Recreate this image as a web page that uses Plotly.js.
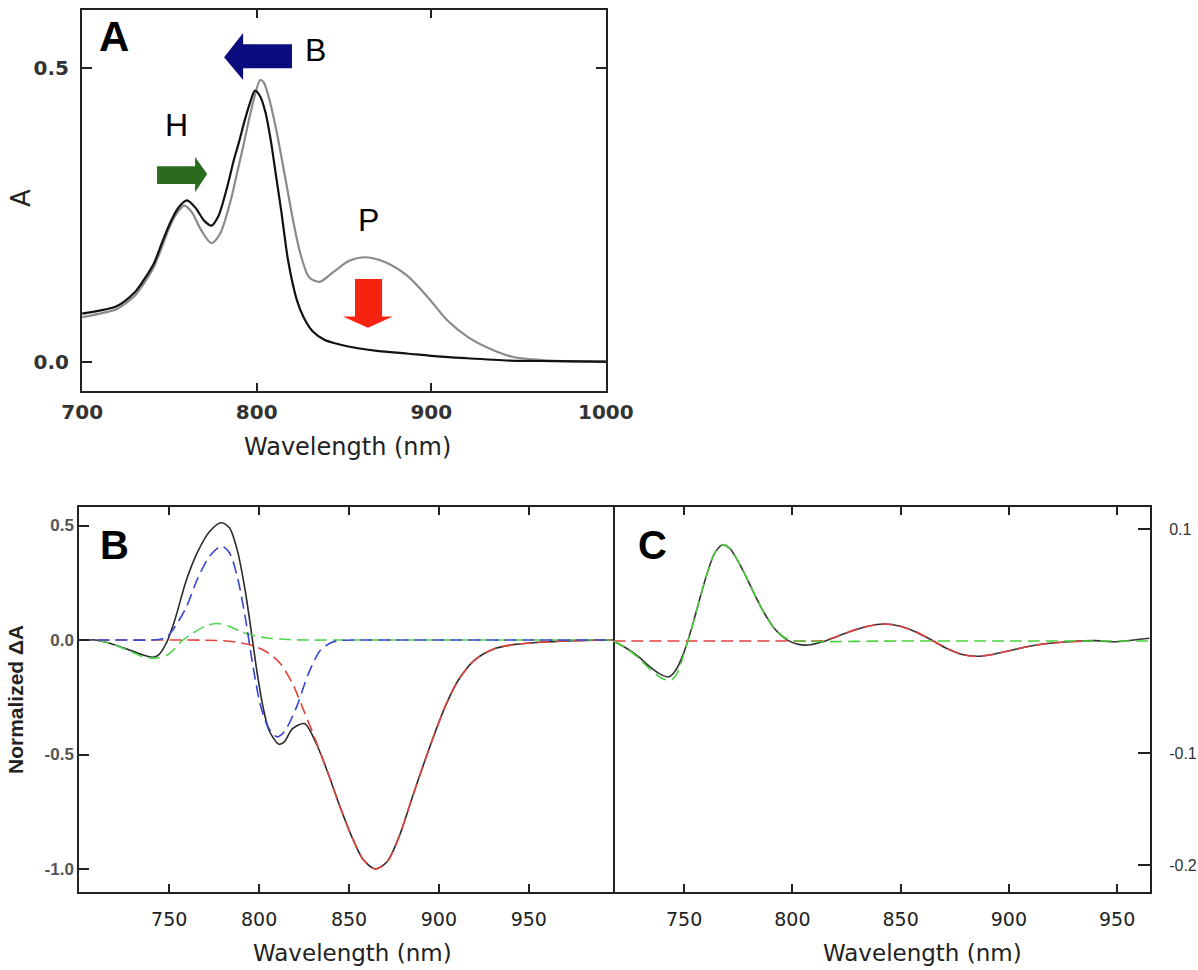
<!DOCTYPE html>
<html><head><meta charset="utf-8">
<script src="https://cdn.plot.ly/plotly-3.0.1.min.js"></script>
<style>html,body{margin:0;padding:0;background:#fff}#chart{width:1198px;height:970px}</style>
</head><body><div id="chart"></div>
<script>
// ---------- Panel A: absorption spectra ----------
const A_WL_BLACK = [700,710,720,730,735,741,746,750,755,760,765,770,774,778,783,787,790,793,796,799,802,805,808,811,814,818,823,827,832,839,848,858,870,886,900,920,945,970,1000];
const A_ABS_BLACK = [0.082,0.087,0.095,0.118,0.138,0.167,0.205,0.234,0.262,0.275,0.262,0.240,0.232,0.248,0.297,0.345,0.376,0.410,0.440,0.462,0.452,0.425,0.378,0.318,0.258,0.172,0.105,0.075,0.052,0.037,0.029,0.023,0.018,0.014,0.010,0.006,0.002,0.001,0.000];
const A_WL_GRAY = [700,710,720,730,735,741,746,750,754,758.5,763,768,774,779,785,789,792.5,795,798,802,804,806.5,811,816,820.5,825,830,836,844,853,862.6,874,886,898,909,921,933,947,968,1000];
const A_ABS_GRAY = [0.076,0.082,0.090,0.112,0.132,0.161,0.198,0.229,0.252,0.266,0.254,0.225,0.202,0.218,0.274,0.325,0.370,0.405,0.443,0.480,0.476,0.455,0.398,0.319,0.246,0.184,0.144,0.136,0.153,0.172,0.178,0.169,0.147,0.110,0.071,0.042,0.023,0.008,0.002,0.000];

// ---------- Panel B: normalized difference spectrum and band components ----------
const B_WL_TOTAL = [700,709,718,726.5,735,741,744,748.5,753,759.4,766,772.6,779,783.5,788,792.3,795.6,799,802.2,805.5,811,814,818.6,825.2,831.8,838.4,845,851.5,858,864.7,871.3,877.9,884.4,891,897.6,904.2,910.7,919.5,930.5,941.4,952.4,963.4,974.3,997];
const B_TOTAL = [0,0,-0.017,-0.039,-0.064,-0.075,-0.066,-0.012,0.084,0.258,0.388,0.475,0.512,0.49,0.388,0.214,0.04,-0.148,-0.293,-0.394,-0.455,-0.445,-0.387,-0.365,-0.452,-0.583,-0.728,-0.858,-0.96,-1.0,-0.967,-0.858,-0.706,-0.554,-0.409,-0.278,-0.177,-0.09,-0.039,-0.02,-0.012,-0.007,-0.003,0];
const B_WL_BBAND = [700,720,740,744,748.5,753,759.4,766,772.6,779,783.5,788,792.3,796.7,801,805.5,810,814,820.8,827.4,834,840.6,847,860,900,950,997];
const B_BBAND = [0,0,0,0.002,0.012,0.055,0.142,0.272,0.367,0.41,0.381,0.272,0.099,-0.119,-0.293,-0.387,-0.423,-0.401,-0.293,-0.148,-0.046,-0.01,-0.001,0,0,0,0];
const B_WL_HBAND = [700,712,718,726.5,735.3,742,748.5,753,757.2,763.8,770.4,777,783.5,790,796.7,805.5,814,825,850,900,997];
const B_HBAND = [0,-0.004,-0.017,-0.043,-0.072,-0.079,-0.068,-0.039,-0.003,0.033,0.062,0.072,0.059,0.036,0.019,0.008,0.003,0,0,0,0];
const B_WL_PBAND = [700,760,770,779,788,796.7,805.5,812,818.6,825.2,831.8,838.4,845,851.5,858,864.7,871.3,877.9,884.4,891,897.6,904.2,910.7,919.5,930.5,941.4,952.4,963.4,974.3,997];
const B_PBAND = [0,0,-0.001,-0.003,-0.01,-0.025,-0.058,-0.105,-0.19,-0.315,-0.445,-0.583,-0.728,-0.858,-0.96,-1.0,-0.967,-0.858,-0.706,-0.554,-0.409,-0.278,-0.177,-0.09,-0.039,-0.02,-0.012,-0.007,-0.003,0];

// ---------- Panel C: residual and its components ----------
const C_WL_TOTAL = [717.3,723.6,728.9,734.2,739.4,743,746.5,750,753.5,757,760.6,764,767.6,771,776.4,781.7,787,792.2,797.5,802.8,807.2,813.3,820.4,827.4,834.4,842.3,850.3,857.3,864.3,871.4,878.4,885.4,892.5,901.3,910,918.9,927.7,940,948.8,957.6,965];
const C_TOTAL = [0,-0.0067,-0.014,-0.023,-0.030,-0.032,-0.025,-0.0097,0.0115,0.036,0.060,0.078,0.0858,0.083,0.066,0.045,0.025,0.010,0.001,-0.003,-0.0036,-0.0012,0.0039,0.009,0.013,0.0152,0.013,0.0079,0.0009,-0.0067,-0.012,-0.0136,-0.012,-0.0082,-0.0045,-0.002,-0.0006,0.0003,-0.0006,0.0009,0.0024];
const C_WL_HBAND = [717.3,723.6,728.9,734.2,739.4,744,747.3,750,753.5,757,760.6,764,767.6,771,776.4,781.7,787,792.2,797.5,802.8,850,900,965];
const C_HBAND = [0,-0.007,-0.015,-0.025,-0.033,-0.035,-0.027,-0.011,0.011,0.036,0.060,0.078,0.086,0.083,0.066,0.045,0.025,0.010,0.002,0,0,0,0];
const C_WL_PBAND = [717.3,760,800,805,813.3,820.4,827.4,834.4,842.3,850.3,857.3,864.3,871.4,878.4,885.4,892.5,901.3,910,918.9,927.7,935];
const C_PBAND = [0,0,0,0,0.0002,0.0039,0.009,0.013,0.0152,0.013,0.008,0.001,-0.0067,-0.012,-0.0138,-0.012,-0.0082,-0.0045,-0.002,-0.0006,0];

const W = 1198, H = 970;
const fx = p => p / W;
const fy = p => 1 - p / H;

const DASH = '12px,6px';
const traces = [
  {x: A_WL_GRAY, y: A_ABS_GRAY, xaxis: 'x', yaxis: 'y', mode: 'lines', line: {color: '#8a8a8a', width: 2.2, shape: 'spline', smoothing: 0.8}},
  {x: A_WL_BLACK, y: A_ABS_BLACK, xaxis: 'x', yaxis: 'y', mode: 'lines', line: {color: '#111', width: 2.2, shape: 'spline', smoothing: 0.8}},

  {x: B_WL_TOTAL, y: B_TOTAL, xaxis: 'x2', yaxis: 'y2', mode: 'lines', line: {color: '#2a2a2a', width: 1.6, shape: 'spline', smoothing: 0.8}},
  {x: B_WL_HBAND, y: B_HBAND, xaxis: 'x2', yaxis: 'y2', mode: 'lines', line: {color: '#4fd44f', width: 1.6, dash: DASH, shape: 'spline', smoothing: 0.8}},
  {x: B_WL_PBAND, y: B_PBAND, xaxis: 'x2', yaxis: 'y2', mode: 'lines', line: {color: '#e0463c', width: 1.6, dash: DASH, shape: 'spline', smoothing: 0.8}},
  {x: B_WL_BBAND, y: B_BBAND, xaxis: 'x2', yaxis: 'y2', mode: 'lines', line: {color: '#3646d0', width: 1.6, dash: DASH, shape: 'spline', smoothing: 0.8}},

  {x: C_WL_TOTAL, y: C_TOTAL, xaxis: 'x3', yaxis: 'y3', mode: 'lines', line: {color: '#333', width: 1.6, shape: 'spline', smoothing: 0.8}},
  {x: C_WL_PBAND, y: C_PBAND, xaxis: 'x3', yaxis: 'y3', mode: 'lines', line: {color: '#e04040', width: 1.6, dash: DASH, shape: 'spline', smoothing: 0.8}},
  {x: C_WL_HBAND, y: C_HBAND, xaxis: 'x3', yaxis: 'y3', mode: 'lines', line: {color: '#4ccf3c', width: 1.6, dash: DASH, shape: 'spline', smoothing: 0.8}}
];

const frame = {showline: true, linecolor: '#222', linewidth: 2, ticks: 'inside', tickcolor: '#222', tickwidth: 2, showgrid: false, zeroline: false, fixedrange: true};
const fontA = {family: 'DejaVu Sans', size: 20, weight: 'bold', color: '#333'};
const fontBx = {family: 'DejaVu Sans', size: 19, color: '#222'};

const layout = {
  width: W, height: H,
  margin: {l: 0, r: 0, t: 0, b: 0},
  paper_bgcolor: '#fff', plot_bgcolor: 'rgba(0,0,0,0)',
  showlegend: false, hovermode: false,
  xaxis: Object.assign({}, frame, {domain: [fx(82), fx(606)], range: [699.9, 1000.1], anchor: 'y', mirror: 'ticks', ticklen: 8,
    tickvals: [700, 800, 900, 1000], tickfont: fontA, ticklabelstandoff: 2}),
  yaxis: Object.assign({}, frame, {domain: [fy(391), fy(10)], range: [-0.0499, 0.5994], anchor: 'x', mirror: 'ticks', ticklen: 10,
    tickvals: [0, 0.5], tickformat: '.1f', tickfont: fontA, ticklabelstandoff: 7}),
  xaxis2: Object.assign({}, frame, {domain: [fx(79.3), fx(613.3)], range: [700, 997], anchor: 'y2', mirror: 'ticks', ticklen: 8,
    tickvals: [750, 800, 850, 900, 950], tickfont: fontBx, ticklabelstandoff: 9}),
  yaxis2: Object.assign({}, frame, {domain: [fy(892.3), fy(507.3)], range: [-1.1017, 0.5795], anchor: 'x2', mirror: true, ticklen: 10,
    tickvals: [-1.0, -0.5, 0, 0.5], ticktext: ['-1.0', '-0.5', '0.0', '0.5'], tickfont: {family: 'Liberation Sans', size: 17, weight: 'bold', color: '#555'}, ticklabelstandoff: 0}),
  xaxis3: Object.assign({}, frame, {domain: [fx(613.3), fx(1150)], range: [717.3, 965.2], anchor: 'y3', mirror: 'ticks', ticklen: 8,
    tickvals: [750, 800, 850, 900, 950], tickfont: fontBx, ticklabelstandoff: 9}),
  yaxis3: Object.assign({}, frame, {domain: [fy(892.3), fy(507.3)], range: [-0.2244, 0.1194], anchor: 'x3', side: 'right', mirror: false, ticklen: 12,
    tickvals: [-0.2, -0.1, 0.1], ticktext: ['-0.2', '-0.1', '0.1'], tickfont: {family: 'Liberation Sans', size: 16, color: '#333'}, ticklabelstandoff: 14}),
  shapes: [
    {type: 'path', xref: 'x', yref: 'y', line: {width: 0}, fillcolor: '#0b0b7d',
     path: 'M781.3,0.519 L792.2,0.560 L792.2,0.541 L820.2,0.541 L820.2,0.500 L792.2,0.500 L792.2,0.480 Z'},
    {type: 'path', xref: 'x', yref: 'y', line: {width: 0}, fillcolor: '#2b6b1e',
     path: 'M742.9,0.333 L764.7,0.333 L764.7,0.349 L771.6,0.320 L764.7,0.289 L764.7,0.303 L742.9,0.303 Z'},
    {type: 'path', xref: 'x', yref: 'y', line: {width: 0}, fillcolor: '#f5230f',
     path: 'M856.3,0.141 L871.8,0.141 L871.8,0.077 L878.0,0.077 L863.7,0.058 L849.4,0.077 L856.3,0.077 Z'}
  ],
  annotations: [
    {text: '<b>A</b>', x: fx(113.5), y: fy(37), xref: 'paper', yref: 'paper', showarrow: false, xanchor: 'center', yanchor: 'middle', font: {family: 'Liberation Sans', size: 42, color: '#000'}},
    {text: 'B', x: fx(315.5), y: fy(50), xref: 'paper', yref: 'paper', showarrow: false, xanchor: 'center', yanchor: 'middle', font: {family: 'Liberation Sans', size: 32, color: '#000'}},
    {text: 'H', x: fx(176), y: fy(125), xref: 'paper', yref: 'paper', showarrow: false, xanchor: 'center', yanchor: 'middle', font: {family: 'Liberation Sans', size: 32, color: '#000'}},
    {text: 'P', x: fx(368), y: fy(220), xref: 'paper', yref: 'paper', showarrow: false, xanchor: 'center', yanchor: 'middle', font: {family: 'Liberation Sans', size: 32, color: '#000'}},
    {text: 'Wavelength (nm)', x: fx(347), y: fy(447), xref: 'paper', yref: 'paper', showarrow: false, xanchor: 'center', yanchor: 'middle', font: {family: 'DejaVu Sans', size: 24, color: '#222'}},
    {text: 'A', x: fx(21), y: fy(198), xref: 'paper', yref: 'paper', showarrow: false, textangle: -90, xanchor: 'center', yanchor: 'middle', font: {family: 'DejaVu Sans', size: 26, color: '#222'}},
    {text: '<b>B</b>', x: fx(114.5), y: fy(545), xref: 'paper', yref: 'paper', showarrow: false, xanchor: 'center', yanchor: 'middle', font: {family: 'Liberation Sans', size: 40, color: '#000'}},
    {text: '<b>C</b>', x: fx(652), y: fy(545), xref: 'paper', yref: 'paper', showarrow: false, xanchor: 'center', yanchor: 'middle', font: {family: 'Liberation Sans', size: 40, color: '#000'}},
    {text: '<b>Normalized ΔA</b>', x: fx(15), y: fy(700), xref: 'paper', yref: 'paper', showarrow: false, textangle: -90, xanchor: 'center', yanchor: 'middle', font: {family: 'Liberation Sans', size: 21, color: '#222'}},
    {text: 'Wavelength (nm)', x: fx(352), y: fy(953), xref: 'paper', yref: 'paper', showarrow: false, xanchor: 'center', yanchor: 'middle', font: {family: 'DejaVu Sans', size: 23, color: '#222'}},
    {text: 'Wavelength (nm)', x: fx(922), y: fy(953), xref: 'paper', yref: 'paper', showarrow: false, xanchor: 'center', yanchor: 'middle', font: {family: 'DejaVu Sans', size: 23, color: '#222'}}
  ]
};

Plotly.newPlot('chart', traces, layout, {displayModeBar: false, staticPlot: true});
</script></body></html>
